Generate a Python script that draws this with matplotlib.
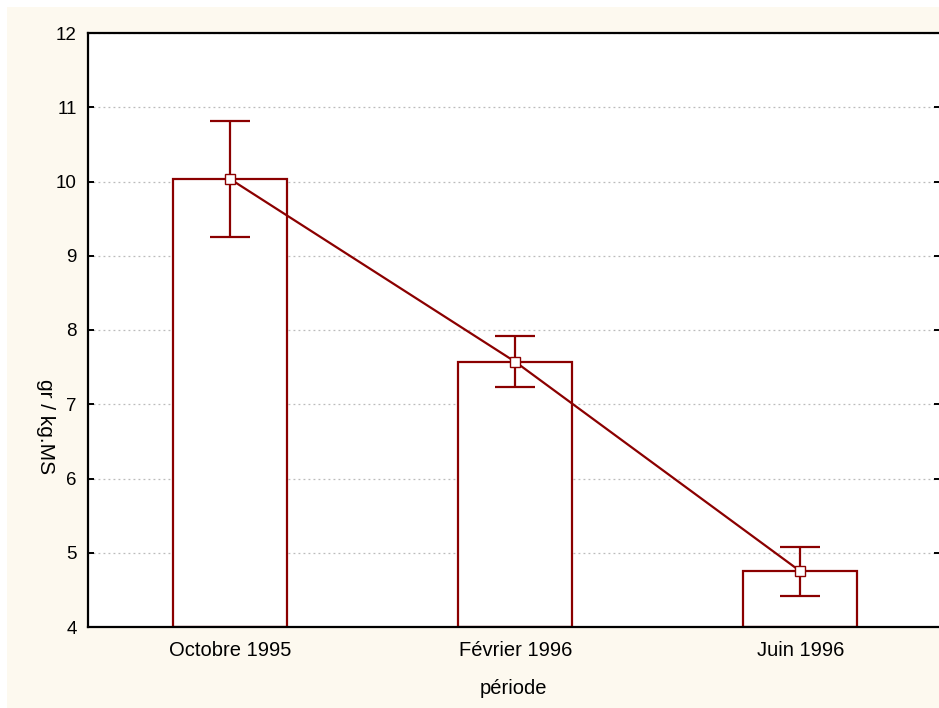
import matplotlib.pyplot as plt
import matplotlib.patches as mpatches
import numpy as np

plt.rcParams['font.family'] = ['Liberation Sans', 'DejaVu Sans']

# data
periods = ["Octobre 1995", "Février 1996", "Juin 1996"]
means = [10.03, 7.57, 4.75]
upper = [10.82, 7.92, 5.08]
lower = [9.25, 7.23, 4.42]

red = "#8B0000"
W, H = 939, 708

fig = plt.figure(figsize=(W / 100, H / 100), dpi=100)
fig.patch.set_facecolor("white")
# cream background panel, slightly inset from top / left
fig.patches.append(mpatches.Rectangle((7 / W, 0), 1, 1 - 7 / H,
                                      transform=fig.transFigure,
                                      facecolor="#FDF9EF", edgecolor="none",
                                      zorder=-10))

ax = fig.add_axes([88 / W, 1 - 627 / H, 852 / W, 594 / H])
ax.set_facecolor("white")

x = np.arange(len(periods))
ax.bar(x, np.array(means) - 4, bottom=4, width=0.40, facecolor="white",
       edgecolor=red, linewidth=1.6, zorder=2)

yerr = [np.array(means) - np.array(lower), np.array(upper) - np.array(means)]
ax.errorbar(x, means, yerr=yerr, fmt="none", ecolor=red, elinewidth=1.6,
            capsize=14.5, capthick=1.6, zorder=3)
ax.plot(x, means, color=red, linewidth=1.6, marker="s", markersize=7,
        markerfacecolor="white", markeredgecolor=red, markeredgewidth=1,
        zorder=4)

ax.set_xlim(-0.5, 2.49)
ax.set_ylim(4, 12)
ax.set_yticks(range(4, 13))
ax.set_xticks(x)
ax.set_xticklabels(periods)

ax.grid(axis="y", linestyle=(0, (1.5, 2.5)), color="#BBBBBB", linewidth=0.9,
        zorder=1)
ax.set_axisbelow(True)

for side in ["left", "bottom", "top"]:
    ax.spines[side].set_linewidth(1.6)
    ax.spines[side].set_color("black")
ax.spines["right"].set_visible(False)

ax.tick_params(axis="y", direction="in", length=4, width=1.4, labelsize=13.5,
               pad=8, right=True)
ax.tick_params(axis="x", direction="in", length=4, width=1.4, labelsize=14.5,
               pad=10)

fig.text(45 / W, 1 - 427 / H, "gr / kg.MS", rotation=270, fontsize=15,
         ha="center", va="center")
fig.text(513 / W, 1 - 688 / H, "période", fontsize=14.5, ha="center",
         va="center")

fig.savefig("out.png", dpi=100, facecolor=fig.get_facecolor())
